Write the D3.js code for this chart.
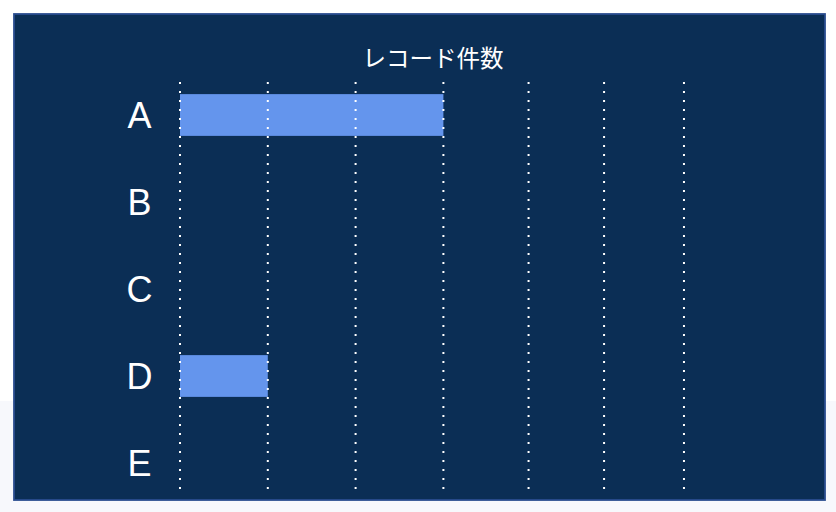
<!DOCTYPE html>
<html>
<head>
<meta charset="utf-8">
<script src="https://cdn.jsdelivr.net/npm/d3@7"></script>
<style>
  html, body { margin: 0; padding: 0; background: #ffffff; }
  svg { display: block; }
</style>
</head>
<body>
<svg id="chart" width="836" height="512"></svg>
<script>
const categories = ["A", "B", "C", "D", "E"];
const values = [3, 0, 0, 1, 0];
const gridTicks = [0, 1, 2, 3, 3.97, 4.83, 5.74];
const axisTitle = "レコード件数";

const W = 836, H = 512;
const svg = d3.select("#chart");

// page background lower band
svg.append("rect").attr("x", 0).attr("y", 401).attr("width", W).attr("height", H - 401)
  .attr("fill", "#f7f8fc");

// panel
svg.append("rect").attr("x", 14).attr("y", 14).attr("width", 811).attr("height", 486)
  .attr("fill", "#0b2e55").attr("stroke", "#2a4d8f").attr("stroke-width", 1.8);

const x = d3.scaleLinear().domain([0, 6]).range([180, 706.8]);
const y = d3.scaleBand().domain(categories).range([71.5, 506.5])
  .paddingInner(0.52).paddingOuter(0.26);

const data = categories.map((c, i) => ({ cat: c, value: values[i] }));

// bars
svg.append("g").selectAll("rect").data(data.filter(d => d.value > 0)).join("rect")
  .attr("x", x(0))
  .attr("y", d => y(d.cat))
  .attr("width", d => x(d.value) - x(0))
  .attr("height", y.bandwidth())
  .attr("fill", "#6495ed");

// gridlines (dotted)
svg.append("g").selectAll("line").data(gridTicks).join("line")
  .attr("x1", d => x(d)).attr("x2", d => x(d))
  .attr("y1", 82).attr("y2", 489)
  .attr("stroke", "#ffffff").attr("stroke-width", 2)
  .attr("stroke-dasharray", "2,7");

// category labels
svg.append("g").selectAll("text").data(categories).join("text")
  .attr("x", 139.5)
  .attr("y", d => y(d) + y.bandwidth() / 2)
  .attr("text-anchor", "middle")
  .attr("dominant-baseline", "central")
  .attr("fill", "#ffffff")
  .attr("font-family", "'Liberation Sans', Arial, sans-serif")
  .attr("font-size", 36)
  .text(d => d);

// axis title
svg.append("text")
  .attr("x", 433).attr("y", 57)
  .attr("text-anchor", "middle")
  .attr("dominant-baseline", "central")
  .attr("fill", "#ffffff")
  .attr("font-family", "'Noto Sans CJK JP', sans-serif")
  .attr("font-size", 23.5)
  .text(axisTitle);
</script>
</body>
</html>
